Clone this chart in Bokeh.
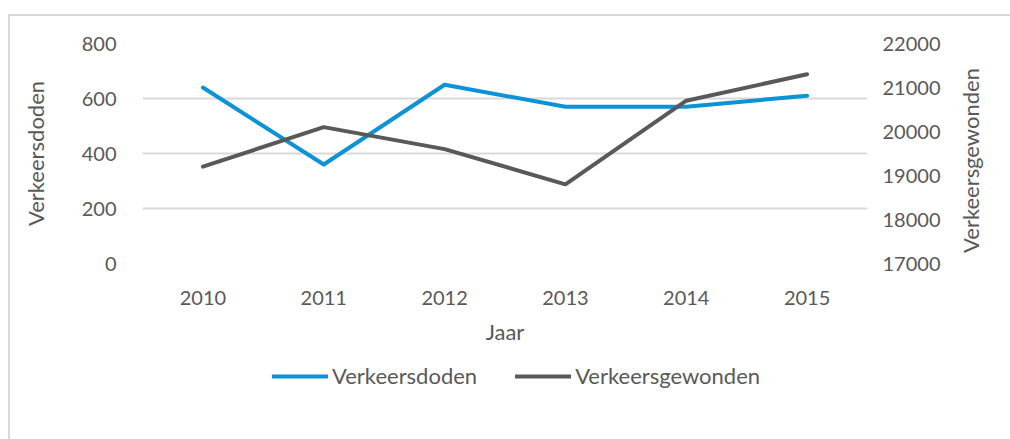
import math
from bokeh.plotting import figure
from bokeh.layouts import column, row
from bokeh.models import Range1d, LinearAxis, FixedTicker, Legend, LegendItem, Label
from bokeh.embed import file_html
from bokeh.resources import INLINE

years = ["2010", "2011", "2012", "2013", "2014", "2015"]
verkeersdoden = [640, 360, 650, 570, 570, 610]
verkeersgewonden = [19200, 20100, 19600, 18800, 20700, 21300]
left_ticks = [0, 200, 400, 600, 800]
right_ticks = [17000, 18000, 19000, 20000, 21000, 22000]
series_names = ["Verkeersdoden", "Verkeersgewonden"]

FONT = "Lato"
TXT = "#595959"
BLUE = "#0B93D5"
GRAY = "#595959"

p = figure(x_range=years, y_range=Range1d(0, 800), width=940, height=340,
           output_backend="svg", toolbar_location=None,
           min_border_left=132, min_border_right=83, min_border_top=27, min_border_bottom=93)
p.outline_line_color = None
p.x_range.range_padding = 0

p.extra_y_ranges = {"right": Range1d(17000, 22000)}

r1 = p.line(years, verkeersdoden, line_color=BLUE, line_width=4, line_cap="round", line_join="round")
r2 = p.line(years, verkeersgewonden, y_range_name="right", line_color=GRAY, line_width=4,
            line_cap="round", line_join="round")

ra = LinearAxis(y_range_name="right")
p.add_layout(ra, "right")

for ax in [p.xaxis[0], p.yaxis[0], ra]:
    ax.axis_line_color = None
    ax.major_tick_line_color = None
    ax.minor_tick_line_color = None
    ax.major_label_text_font = FONT
    ax.major_label_text_font_size = "20px"
    ax.major_label_text_color = TXT
    ax.axis_label_text_font = FONT
    ax.axis_label_text_font_size = "22px"
    ax.axis_label_text_color = TXT
    ax.axis_label_text_font_style = "normal"

p.yaxis[0].ticker = FixedTicker(ticks=left_ticks)
ra.ticker = FixedTicker(ticks=right_ticks)
p.yaxis[0].axis_label = series_names[0]
p.xaxis[0].axis_label = "Jaar"

p.yaxis[0].major_label_standoff = 20
p.yaxis[0].axis_label_standoff = 30
ra.major_label_standoff = 9
p.xaxis[0].major_label_standoff = 21
p.xaxis[0].axis_label_standoff = 10

p.xgrid.grid_line_color = None
p.ygrid.grid_line_color = "#d9d9d9"
p.ygrid.grid_line_width = 2

# legend strip below the chart (lines drawn out of view, only used for legend glyphs)
lf = figure(width=940, height=83, output_backend="svg", toolbar_location=None,
            x_range=years, y_range=Range1d(-3000, -2000),
            min_border_left=0, min_border_right=0, min_border_top=0, min_border_bottom=0)
lf.axis.visible = False
lf.grid.grid_line_color = None
lf.outline_line_color = None
lr1 = lf.line(years, verkeersdoden, line_color=BLUE, line_width=4, line_cap="round")
lr2 = lf.line(years, verkeersdoden, line_color=GRAY, line_width=4, line_cap="round")

legend = Legend(items=[LegendItem(label=series_names[0], renderers=[lr1]),
                       LegendItem(label=series_names[1], renderers=[lr2])],
                orientation="horizontal", location=(130, 50))
legend.border_line_color = None
legend.background_fill_alpha = 0
legend.padding = 0
legend.margin = 0
legend.spacing = 38
legend.glyph_width = 56
legend.glyph_height = 20
legend.label_height = 20
legend.label_standoff = 4
legend.label_text_font = FONT
legend.label_text_font_size = "22px"
legend.label_text_color = TXT
lf.add_layout(legend, "center")

# right axis title strip
tf = figure(width=60, height=423, output_backend="svg", toolbar_location=None,
            x_range=Range1d(0, 60), y_range=Range1d(0, 423),
            min_border_left=0, min_border_right=0, min_border_top=0, min_border_bottom=0)
tf.axis.visible = False
tf.grid.grid_line_color = None
tf.outline_line_color = None
tf.add_layout(Label(x=20, y=279, text=series_names[1], angle=math.pi / 2,
                    text_align="center", text_baseline="middle", text_font=FONT,
                    text_font_size="22px", text_color=TXT))

layout = row(column(p, lf, spacing=0), tf, spacing=0)
layout.margin = (14, 0, 0, 8)
layout.styles = {"border-left": "2px solid #d9d9d9", "border-top": "2px solid #d9d9d9"}

open("out.html", "w").write(file_html(layout, INLINE))
